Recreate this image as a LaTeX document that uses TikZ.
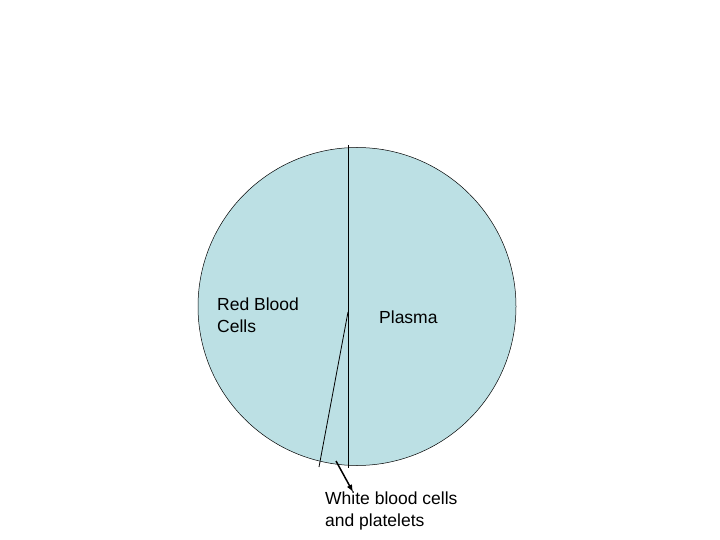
\documentclass[tikz,border=0pt]{standalone}
\usepackage{fontspec}
\setmainfont{Liberation Sans}
\begin{document}
\begin{tikzpicture}[x=1pt,y=-1pt,
  lbl/.style={anchor=north west,align=left,inner sep=0pt,font=\fontsize{17.5}{22}\selectfont}]
\useasboundingbox (0,0) rectangle (720,540);
\fill[fill={rgb,255:red,188;green,224;blue,228}] (357,306.5) circle (159);
\coordinate (top) at (348,145);
\coordinate (bot) at (348,468);
\coordinate (mid) at (348,312);
\coordinate (sl) at (319,467);
\draw[line width=0.8pt] (top) -- (bot);
\draw[line width=0.8pt] (mid) -- (sl);
\draw[line width=0.5pt] (357,306.5) circle (159);
\node[lbl] (rbc) at (217,298) {Red Blood\\Cells};
\node[lbl] (pl) at (379,311) {Plasma};
\node[lbl] (wbc) at (325,492) {White blood cells\\and platelets};
\coordinate (as) at (336,461);
\draw[line width=1.5pt,-latex] (as) -- (wbc.north west -| 353,492);
\end{tikzpicture}
\end{document}
